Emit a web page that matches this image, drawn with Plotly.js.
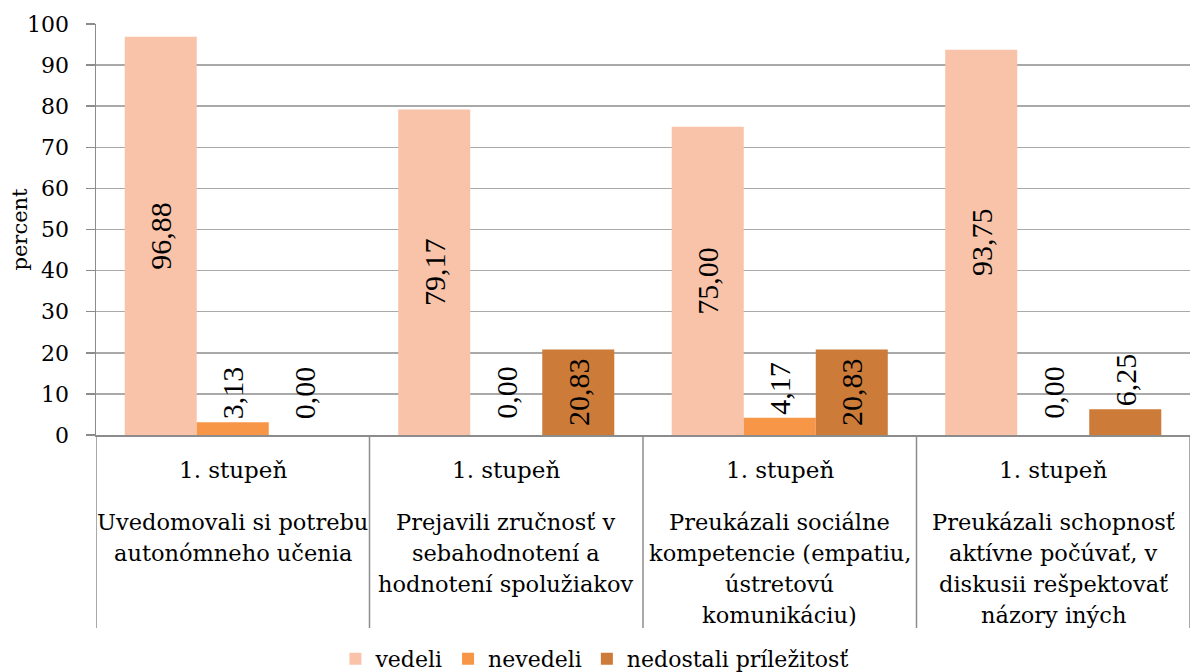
<!DOCTYPE html>
<html>
<head>
<meta charset="utf-8">
<script src="https://cdn.plot.ly/plotly-3.0.1.min.js"></script>
<style>
  html, body { margin: 0; padding: 0; background: #fff; }
  #chart { width: 1196px; height: 672px; }
</style>
</head>
<body>
<div id="chart"></div>
<script>
// ---- data ----
const categories = [0, 1, 2, 3];
const levelLabels = ["1. stupeň", "1. stupeň", "1. stupeň", "1. stupeň"];
const categoryLabels = [
  ["Uvedomovali si potrebu", "autonómneho učenia"],
  ["Prejavili zručnosť v", "sebahodnotení a", "hodnotení spolužiakov"],
  ["Preukázali sociálne", "kompetencie (empatiu,", "ústretovú", "komunikáciu)"],
  ["Preukázali schopnosť", "aktívne počúvať, v", "diskusii rešpektovať", "názory iných"]
];
const seriesNames = ["vedeli", "nevedeli", "nedostali príležitosť"];
const vedeli = [96.88, 79.17, 75.00, 93.75];
const nevedeli = [3.13, 0.00, 4.17, 0.00];
const nedostali = [0.00, 20.83, 20.83, 6.25];
const yTitle = "percent";

// ---- styles ----
const colors = ["#F8C3A9", "#F79646", "#CC7B39"];
const serif = "DejaVu Serif";
const labelFont = { family: "Liberation Serif", size: 30, color: "#000000" };
const bargap = 0.21;

const seriesValues = [vedeli, nevedeli, nedostali];
const traces = seriesValues.map((vals, i) => ({
  type: "bar",
  name: seriesNames[i],
  x: categories,
  y: vals,
  marker: { color: colors[i], line: { width: 0 } },
  texttemplate: "%{y:.2f}",
  textposition: "auto",
  textangle: -90,
  insidetextanchor: "middle",
  constraintext: "none",
  textfont: labelFont,
  insidetextfont: labelFont,
  outsidetextfont: labelFont,
  cliponaxis: false,
  hoverinfo: "skip"
}));

// plot geometry (pixels)
const plotLeft = 96, plotRight = 1190, plotW = plotRight - plotLeft;
const plotTop = 24, plotBottom = 435, plotH = plotBottom - plotTop;
const toPaperY = py => (plotBottom - py) / plotH;
const toPaperX = px => (px - plotLeft) / plotW;

const annotations = [];
categories.forEach((c, i) => {
  annotations.push({
    x: c, xref: "x", y: toPaperY(470), yref: "paper",
    text: levelLabels[i], showarrow: false,
    xanchor: "center", yanchor: "middle",
    font: { family: serif, size: 23, color: "#000" }
  });
  categoryLabels[i].forEach((line, j) => {
    annotations.push({
      x: c, xref: "x", y: toPaperY(522 + 31 * j), yref: "paper",
      text: line, showarrow: false,
      xanchor: "center", yanchor: "middle",
      font: { family: serif, size: 22.5, color: "#000" }
    });
  });
});

// y-axis title
annotations.push({
  x: toPaperX(19), xref: "paper", y: 0.5, yref: "paper",
  text: yTitle, showarrow: false, textangle: -90,
  xanchor: "center", yanchor: "middle",
  font: { family: serif, size: 21, color: "#000" }
});

// labels for zero-height bars (Plotly draws no text on empty bars)
const nSeries = seriesValues.length;
const barW = (1 - bargap) / nSeries;
seriesValues.forEach((vals, s) => {
  vals.forEach((v, i) => {
    if (v === 0) {
      annotations.push({
        x: categories[i] + (s - (nSeries - 1) / 2) * barW, xref: "x",
        y: v, yref: "y",
        text: v.toFixed(2).replace(".", ","), showarrow: false,
        textangle: -90, xanchor: "center", yanchor: "bottom",
        yshift: 14,
        font: labelFont
      });
    }
  });
});

const shapes = [];
for (let k = 0; k <= categories.length; k++) {
  shapes.push({
    type: "line", xref: "x", yref: "paper",
    x0: k - 0.5, x1: k - 0.5, y0: 0, y1: toPaperY(628),
    line: { color: "#8c8c8c", width: 1.5 }
  });
}

const layout = {
  width: 1196, height: 672,
  margin: { l: plotLeft, r: 1196 - plotRight, t: plotTop, b: 672 - plotBottom, pad: 0, autoexpand: false },
  paper_bgcolor: "#fff", plot_bgcolor: "#fff",
  separators: ", ",
  barmode: "group",
  bargap: bargap,
  bargroupgap: 0,
  showlegend: true,
  legend: {
    orientation: "h",
    x: 0.4556, xanchor: "center",
    y: toPaperY(659), yanchor: "middle",
    font: { family: serif, size: 22, color: "#000" },
    itemwidth: 30,
    traceorder: "normal"
  },
  xaxis: {
    type: "linear",
    range: [-0.5, 3.5],
    showticklabels: false,
    ticks: "",
    showgrid: false,
    zeroline: false,
    showline: true, linecolor: "#8c8c8c", linewidth: 1.5,
    fixedrange: true
  },
  yaxis: {
    range: [0, 100],
    dtick: 10,
    tick0: 0,
    ticks: "outside", ticklen: 9, tickcolor: "#8c8c8c", tickwidth: 1.5,
    ticklabelstandoff: 12,
    showgrid: true, gridcolor: "#a9a9a9", gridwidth: 1.5,
    zeroline: false,
    showline: true, linecolor: "#8c8c8c", linewidth: 1.5,
    tickfont: { family: serif, size: 22, color: "#000" },
    automargin: false,
    fixedrange: true
  },
  annotations: annotations,
  shapes: shapes
};

Plotly.newPlot("chart", traces, layout, { displayModeBar: false, staticPlot: true });
</script>
</body>
</html>
